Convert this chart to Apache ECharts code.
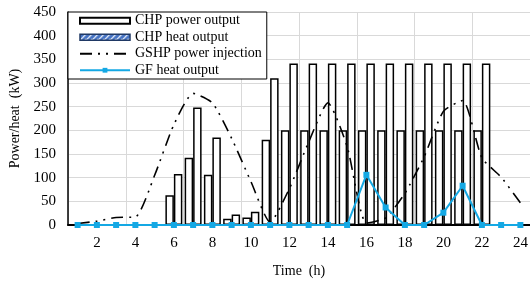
<!DOCTYPE html>
<html>
<head>
<meta charset="utf-8">
<script src="https://cdn.jsdelivr.net/npm/echarts@6/dist/echarts.min.js"></script>
<style>
  html, body { margin: 0; padding: 0; background: #fff; }
  #chart { width: 530px; height: 282px; }
</style>
</head>
<body>
<div id="chart"></div>
<script>
var hours = ['1', '2', '3', '4', '5', '6', '7', '8', '9', '10', '11', '12',
    '13', '14', '15', '16', '17', '18', '19', '20', '21', '22', '23', '24'];
var chpPower = [0, 0, 0, 0, 0, 108, 248, 185, 22, 28, 310, 341,
    341, 341, 341, 341, 341, 341, 341, 341, 341, 341, 0, 0];
var chpHeat = [0, 0, 0, 0, 0, 63, 142, 106, 13, 16, 180, 200,
    200, 200, 200, 200, 200, 200, 200, 200, 200, 200, 0, 0];
var gshpPower = [3, 8, 16, 17, 105, 212, 278, 258, 183, 92, 6, 77,
    175, 258, 166, 4, 15, 67, 144, 240, 263, 142, 101, 47];
var gfHeat = [0, 0, 0, 0, 0, 0, 0, 0, 0, 0, 0, 0,
    0, 0, 0, 106, 37, 0, 0, 26, 83, 0, 0, 0];

var font = 'Liberation Serif';

// hatch pattern for the heat legend icon
var hatch = document.createElement('canvas');
hatch.width = 6;
hatch.height = 6;
var hc = hatch.getContext('2d');
hc.fillStyle = '#4472C4';
hc.fillRect(0, 0, 6, 6);
hc.strokeStyle = '#ffffff';
hc.lineWidth = 1.2;
hc.beginPath();
hc.moveTo(-1, 7); hc.lineTo(7, -1);
hc.moveTo(2, 9); hc.lineTo(9, 2);
hc.moveTo(-4, 4); hc.lineTo(4, -4);
hc.stroke();

var myChart = echarts.init(document.getElementById('chart'));
var option = {
    animation: false,
    grid: { left: 68, right: 0, top: 12, bottom: 57, outerBoundsMode: 'none' },
    legend: {
        orient: 'vertical',
        left: 68,
        top: 12,
        padding: [1, 5, 1, 11],
        itemGap: 1,
        itemWidth: 50,
        itemHeight: 6,
        backgroundColor: '#fff',
        borderColor: '#000',
        borderWidth: 1,
        borderRadius: 0,
        textStyle: { fontFamily: font, fontSize: 14, color: '#000', lineHeight: 15.5 },
        data: [
            { name: 'CHP power output', icon: 'rect' },
            { name: 'CHP heat output', icon: 'rect',
              itemStyle: { color: { image: hatch, repeat: 'repeat' }, borderColor: '#1F3864', borderWidth: 1.5 } },
            { name: 'GSHP power injection', itemStyle: { opacity: 0 } },
            { name: 'GF heat output' }
        ]
    },
    xAxis: {
        type: 'category',
        data: hours,
        name: 'Time  (h)',
        nameLocation: 'middle',
        nameGap: 39,
        nameTextStyle: { fontFamily: font, fontSize: 14, color: '#000' },
        axisLine: { lineStyle: { color: '#000', width: 2 } },
        axisTick: { show: false },
        axisLabel: {
            fontFamily: font, fontSize: 15, color: '#000', margin: 11,
            interval: function (i) { return i % 2 === 1; }
        },
        splitLine: {
            show: true,
            interval: function (i) { return i % 3 === 0; },
            lineStyle: { color: '#d9d9d9', width: 1 }
        }
    },
    yAxis: {
        type: 'value',
        min: 0,
        max: 450,
        interval: 50,
        name: 'Power/heat  (kW)',
        nameLocation: 'middle',
        nameGap: 46,
        nameTextStyle: { fontFamily: font, fontSize: 14, color: '#000' },
        axisLine: { show: true, lineStyle: { color: '#000', width: 1.5 } },
        axisTick: { show: false },
        axisLabel: { fontFamily: font, fontSize: 15, color: '#000', margin: 12 },
        splitLine: { lineStyle: { color: '#d9d9d9', width: 1 } }
    },
    series: [{
        name: 'CHP heat output',
        type: 'bar',
        barGap: '0%',
        barCategoryGap: '12%',
        itemStyle: { color: '#fff', borderColor: '#000', borderWidth: 1.5 },
        data: chpHeat
    }, {
        name: 'CHP power output',
        type: 'bar',
        itemStyle: { color: '#fff', borderColor: '#000', borderWidth: 1.5 },
        data: chpPower
    }, {
        name: 'GSHP power injection',
        type: 'line',
        smooth: 0.2,
        symbol: 'none',
        color: '#000',
        lineStyle: { color: '#000', width: 1.6, type: [12, 6, 2, 6, 2, 6] },
        data: gshpPower
    }, {
        name: 'GF heat output',
        type: 'line',
        symbol: 'rect',
        symbolSize: 6,
        color: '#14A8E4',
        lineStyle: { color: '#14A8E4', width: 2 },
        itemStyle: { color: '#14A8E4' },
        data: gfHeat
    }]
};
option && myChart.setOption(option);
</script>
</body>
</html>
